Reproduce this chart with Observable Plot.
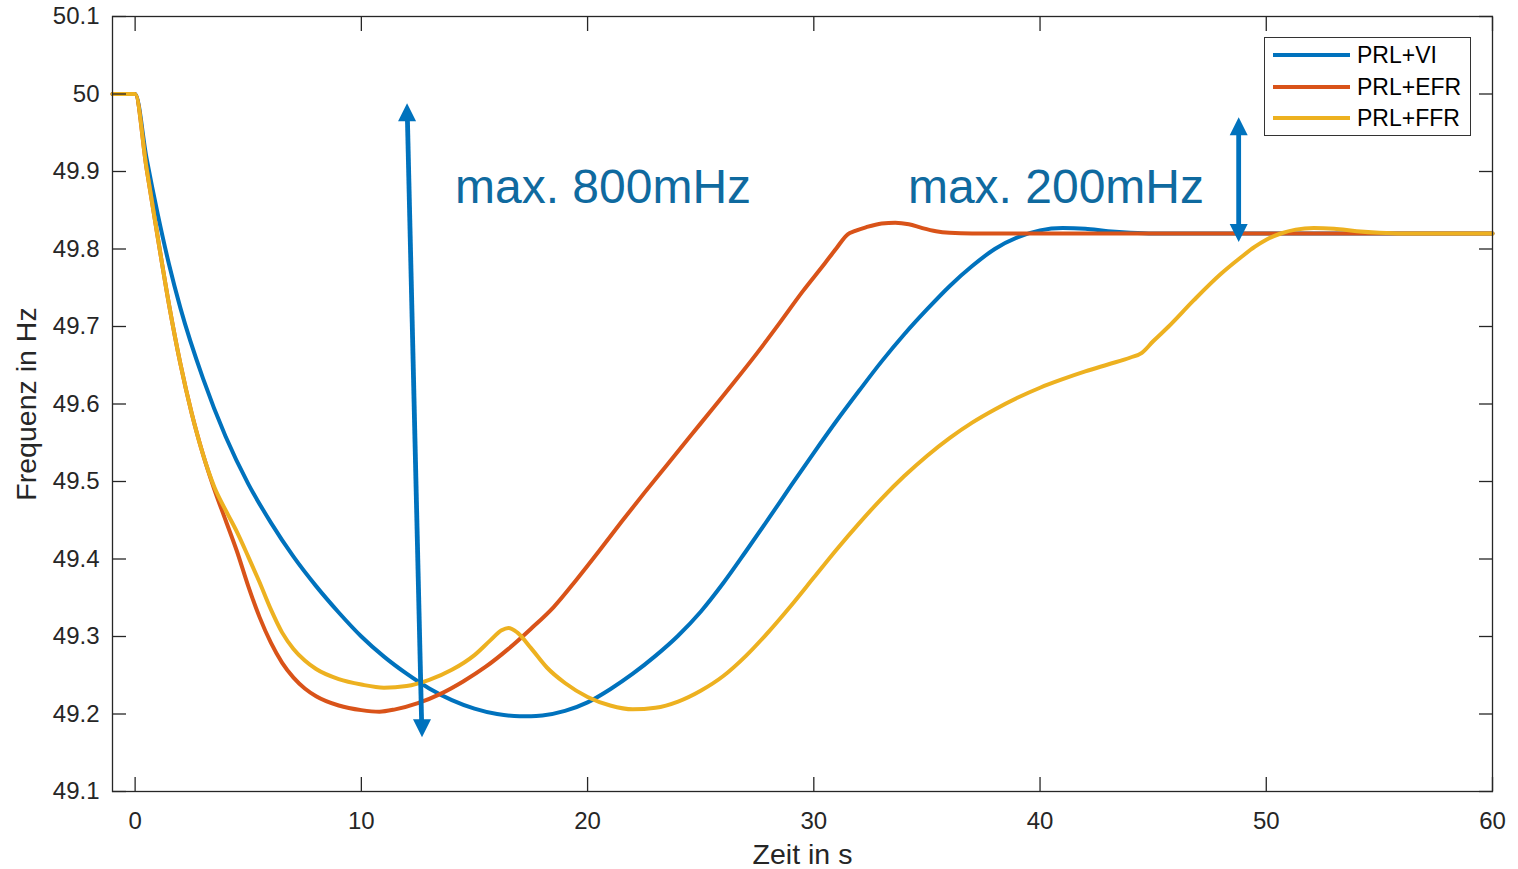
<!DOCTYPE html>
<html>
<head>
<meta charset="utf-8">
<script src="https://cdn.jsdelivr.net/npm/d3@7"></script>
<script src="https://cdn.jsdelivr.net/npm/@observablehq/plot@0.6"></script>
<style>
html, body { margin: 0; padding: 0; background: #fff; }
#wrap { position: relative; width: 1518px; height: 869px; font-family: "Liberation Sans", Arial, Helvetica, sans-serif; }
#legend { position: absolute; left: 1264px; top: 37px; width: 207px; height: 99px; box-sizing: border-box; border: 1.3px solid #333; background: #fff; }
#legend .row { position: absolute; left: 0; width: 100%; height: 0; }
#legend .sw { position: absolute; left: 8px; width: 77px; height: 4px; top: -2px; }
#legend .lb { position: absolute; left: 92px; top: -14px; font-size: 23px; line-height: 28px; color: #000; white-space: nowrap; }
</style>
</head>
<body>
<div id="wrap"><div id="legend"></div></div>
<script>
// ---- data ----
const seriesNames = ["PRL+VI", "PRL+EFR", "PRL+FFR"];
const seriesColors = ["#0072BD", "#D95319", "#EDB120"];

const tVI = [-1, 0, 0.5, 1, 1.5, 2, 3, 4, 5, 6, 7, 8, 9, 10, 11, 12, 13, 14, 15, 16, 17, 17.5, 18, 19, 20, 21, 22, 23, 24, 25, 26, 27, 28, 29, 30, 31, 32, 33, 34, 35, 36, 37, 38, 39, 40, 41, 42, 43, 44, 45, 50, 55, 60];
const fVI = [50, 50, 49.918, 49.845, 49.78, 49.724, 49.633, 49.558, 49.497, 49.447, 49.403, 49.365, 49.331, 49.30, 49.274, 49.252, 49.233, 49.218, 49.207, 49.2, 49.197, 49.197, 49.198, 49.204, 49.215, 49.232, 49.252, 49.275, 49.301, 49.332, 49.369, 49.41, 49.452, 49.495, 49.537, 49.578, 49.617, 49.655, 49.69, 49.722, 49.752, 49.778, 49.8, 49.815, 49.824, 49.827, 49.826, 49.823, 49.821, 49.82, 49.82, 49.82, 49.82];

const tEFR = [-1, 0, 0.5, 1, 1.5, 2, 2.5, 3, 3.5, 4, 4.5, 5, 5.5, 6, 6.5, 7, 7.5, 8, 9, 10, 10.8, 11.5, 12.5, 13.5, 14.5, 15.5, 16.5, 17.5, 18.5, 19.5, 20.5, 21.5, 22.5, 23.5, 24.5, 25.5, 26.5, 27.5, 28.5, 29.5, 30.5, 31, 31.5, 31.8, 32.3, 33, 33.6, 34.2, 34.8, 35.4, 36, 37, 45, 60];
const fEFR = [50, 50, 49.905, 49.815, 49.728, 49.652, 49.588, 49.535, 49.49, 49.45, 49.41, 49.365, 49.325, 49.292, 49.266, 49.247, 49.233, 49.223, 49.211, 49.205, 49.203, 49.206, 49.214, 49.226, 49.242, 49.261, 49.284, 49.31, 49.338, 49.373, 49.41, 49.448, 49.485, 49.521, 49.557, 49.593, 49.629, 49.666, 49.705, 49.745, 49.782, 49.801, 49.819, 49.823, 49.828, 49.833, 49.834, 49.832, 49.827, 49.823, 49.821, 49.82, 49.82, 49.82];

const tFFR = [-1, 0, 0.5, 1, 1.5, 2, 2.5, 3, 3.5, 4, 4.5, 5, 5.5, 6, 6.5, 7, 7.5, 8, 9, 10, 11, 12, 13, 14, 15, 15.7, 16.2, 16.5, 16.9, 17.5, 18.2, 19, 20, 21, 22, 23, 24, 25, 26, 27, 28, 29, 30, 31, 32, 33, 34, 35, 36, 37, 38, 39, 40, 41, 42, 43, 44, 44.5, 45, 45.65, 46.8, 48, 48.87, 49.5, 50, 50.64, 51.3, 52.1, 53, 54, 55, 56, 60];
const fFFR = [50, 50, 49.905, 49.815, 49.728, 49.652, 49.588, 49.535, 49.493, 49.463, 49.435, 49.403, 49.37, 49.335, 49.305, 49.284, 49.269, 49.258, 49.245, 49.238, 49.234, 49.236, 49.244, 49.257, 49.276, 49.295, 49.308, 49.311, 49.305, 49.285, 49.26, 49.24, 49.222, 49.211, 49.206, 49.208, 49.216, 49.23, 49.249, 49.275, 49.306, 49.34, 49.376, 49.412, 49.446, 49.478, 49.507, 49.533, 49.556, 49.576, 49.593, 49.608, 49.621, 49.632, 49.642, 49.651, 49.66, 49.666, 49.681, 49.699, 49.734, 49.768, 49.789, 49.803, 49.812, 49.82, 49.825, 49.827, 49.826, 49.823, 49.821, 49.82, 49.82];

const xTicks = [0, 10, 20, 30, 40, 50, 60];
const xTickLabels = ["0", "10", "20", "30", "40", "50", "60"];
const yTicks = [49.1, 49.2, 49.3, 49.4, 49.5, 49.6, 49.7, 49.8, 49.9, 50.0, 50.1];
const yTickLabels = ["49.1", "49.2", "49.3", "49.4", "49.5", "49.6", "49.7", "49.8", "49.9", "50", "50.1"];

const annotations = [
  {t: 14.14, f: 49.859, label: "max. 800mHz"},
  {t: 34.16, f: 49.859, label: "max. 200mHz"}
];
const arrows = [
  {t1: 12.02, f1: 49.988, t2: 12.68, f2: 49.170},
  {t1: 48.78, f1: 49.970, t2: 48.78, f2: 49.809}
];

const xLabel = "Zeit in s";
const yLabel = "Frequenz in Hz";

// ---- build table ----
const times = [tVI, tEFR, tFFR];
const freqs = [fVI, fEFR, fFFR];
const rows = [];
seriesNames.forEach((name, i) => {
  times[i].forEach((t, j) => rows.push({series: name, t, f: freqs[i][j]}));
});

const upHead = {draw(ctx) { ctx.moveTo(0, 0); ctx.lineTo(9, 18); ctx.lineTo(-9, 18); ctx.closePath(); }};
const downHead = {draw(ctx) { ctx.moveTo(0, 0); ctx.lineTo(9, -18); ctx.lineTo(-9, -18); ctx.closePath(); }};

const fontFamily = '"Liberation Sans", Arial, Helvetica, sans-serif';
const axisColor = "#262626";
const arrowColor = "#0072BD";
const textColor = "#0F6A9F";

const chart = Plot.plot({
  width: 1518,
  height: 869,
  marginLeft: 112,
  marginRight: 26,
  marginTop: 16,
  marginBottom: 78,
  x: {domain: [-1, 60]},
  y: {domain: [49.1, 50.1]},
  color: {domain: seriesNames, range: seriesColors},
  style: {fontFamily, fontSize: "24px", color: axisColor, background: "#fff", overflow: "visible"},
  marks: [
    Plot.line(rows, {x: "t", y: "f", z: "series", stroke: "series", strokeWidth: 4, curve: "monotone-x"}),
    Plot.arrow(arrows, {x1: "t1", y1: "f1", x2: "t2", y2: "f2", stroke: arrowColor, strokeWidth: 4.8, headLength: 0, insetStart: 10, insetEnd: 10, strokeLinecap: "butt"}),
    Plot.dot(arrows, {x: "t1", y: "f1", symbol: upHead, fill: arrowColor, stroke: "none"}),
    Plot.dot(arrows, {x: "t2", y: "f2", symbol: downHead, fill: arrowColor, stroke: "none"}),
    Plot.text(annotations, {x: "t", y: "f", text: "label", textAnchor: "start", lineAnchor: "bottom", fontSize: 48, fill: textColor}),
    Plot.frame({stroke: axisColor, strokeWidth: 1.3}),
    Plot.axisX({anchor: "bottom", ticks: xTicks, tickFormat: (d, i) => xTickLabels[i], tickSize: -14, tickPadding: 34, strokeWidth: 1.3, label: null, fontSize: 24}),
    Plot.axisX({anchor: "top", ticks: xTicks, tickFormat: () => "", tickSize: -14, strokeWidth: 1.3, label: null}),
    Plot.axisY({anchor: "left", ticks: yTicks, tickFormat: (d, i) => yTickLabels[i], tickSize: -14, tickPadding: 27, strokeWidth: 1.3, label: null, fontSize: 24}),
    Plot.axisY({anchor: "right", ticks: yTicks, tickFormat: () => "", tickSize: -14, strokeWidth: 1.3, label: null}),
    Plot.text([xLabel], {text: d => d, frameAnchor: "bottom", textAnchor: "middle", dy: 72, lineAnchor: "bottom", fontSize: 28.5, fill: axisColor}),
    Plot.text([yLabel], {text: d => d, frameAnchor: "left", textAnchor: "middle", dx: -97, rotate: -90, lineAnchor: "top", fontSize: 28.5, fill: axisColor})
  ]
});

document.getElementById("wrap").prepend(chart);

// legend
const legend = document.getElementById("legend");
const rowY = [17, 49, 80];
seriesNames.forEach((name, i) => {
  const r = document.createElement("div");
  r.className = "row";
  r.style.top = rowY[i] + "px";
  const sw = document.createElement("div");
  sw.className = "sw";
  sw.style.background = seriesColors[i];
  const lb = document.createElement("div");
  lb.className = "lb";
  lb.textContent = name;
  r.appendChild(sw);
  r.appendChild(lb);
  legend.appendChild(r);
});
</script>
</body>
</html>
